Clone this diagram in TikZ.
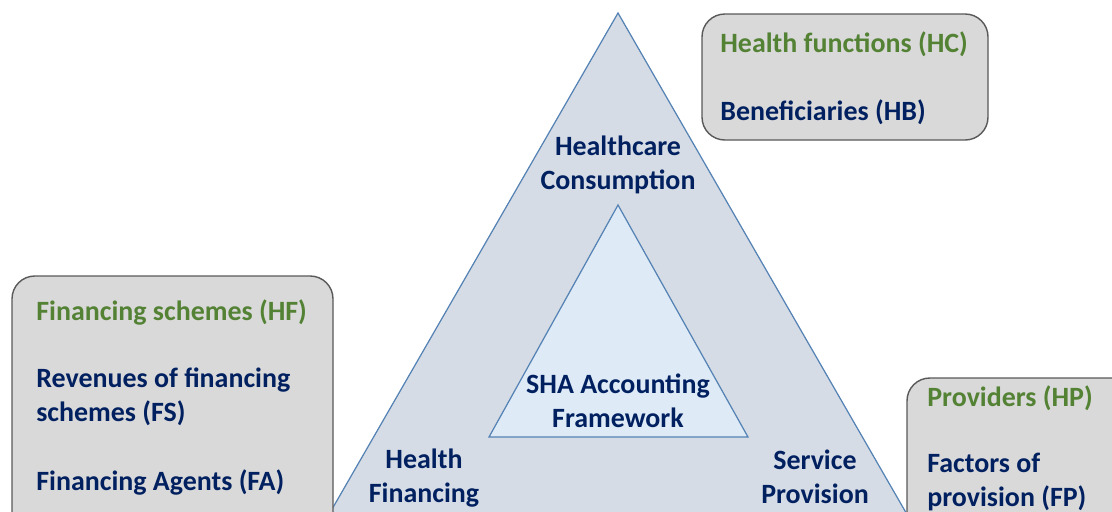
\documentclass[tikz,border=0pt]{standalone}
\usepackage{fontspec}
\setmainfont{Carlito}
\usepackage{xcolor}
\usepackage{tikz}
\usetikzlibrary{positioning}
\definecolor{shanavy}{RGB}{0, 32, 96}
\definecolor{shagreen}{RGB}{84, 130, 53}
\definecolor{outerfill}{RGB}{214, 220, 229}
\definecolor{innerfill}{RGB}{222, 235, 247}
\definecolor{edgeblue}{RGB}{84, 130, 180}
\definecolor{boxgray}{RGB}{217, 217, 217}
\tikzset{
    catbox/.style={draw=black!65, fill=boxgray, rounded corners=13pt, line width=0.8pt},
    trianglepart/.style={draw=edgeblue, line width=0.7pt},
    dimlabel/.style={text=shanavy, font=\bfseries\fontsize{15.9}{19.4}\selectfont, align=center, inner sep=0pt},
    headlabel/.style={text=shagreen, font=\bfseries\fontsize{15.9}{19.4}\selectfont, anchor=west, inner sep=0pt},
    itemlabel/.style={text=shanavy, font=\bfseries\fontsize{15.9}{19.4}\selectfont, anchor=west, align=left, inner sep=0pt}
}

\begin{document}
\begin{tikzpicture}[x=0.02cm, y=-0.02cm]
    \useasboundingbox (0,0) rectangle (1112,511);
    \clip (0,0) rectangle (1112,511);

    % outer and inner triangle
    \draw[trianglepart, fill=outerfill] (618,13) -- (320,530) -- (916,530) -- cycle;
    \draw[trianglepart, fill=innerfill] (618,205) -- (489,437) -- (748,437) -- cycle;

    \node[dimlabel] (consumption) at (618,165) {Healthcare\\Consumption};
    \node[dimlabel] (framework) at (618,401) {SHA Accounting\\Framework};
    \node[dimlabel] (financing) at (424,478) {Health\\Financing};
    \node[dimlabel] (provision) at (815,477) {Service\\Provision};

    % classification boxes
    \draw[catbox] (702,14) rectangle (988,140);
    \draw[catbox] (12,276) rectangle (333,545);
    \draw[catbox] (907,378) rectangle (1150,545);

    \node[headlabel] (hc) at (720,44) {Health functions (HC)};
    \node[itemlabel] (hb) at (720,112) {Beneficiaries (HB)};

    \node[headlabel] (hf) at (36,312) {Financing schemes (HF)};
    \node[itemlabel] (fs) at (36,397) {Revenues of financing\\schemes (FS)};
    \node[itemlabel] (fa) at (36,482) {Financing Agents (FA)};

    \node[headlabel] (hp) at (927,398) {Providers (HP)};
    \node[itemlabel] (fp) at (927,482) {Factors of\\provision (FP)};
\end{tikzpicture}
\end{document}
